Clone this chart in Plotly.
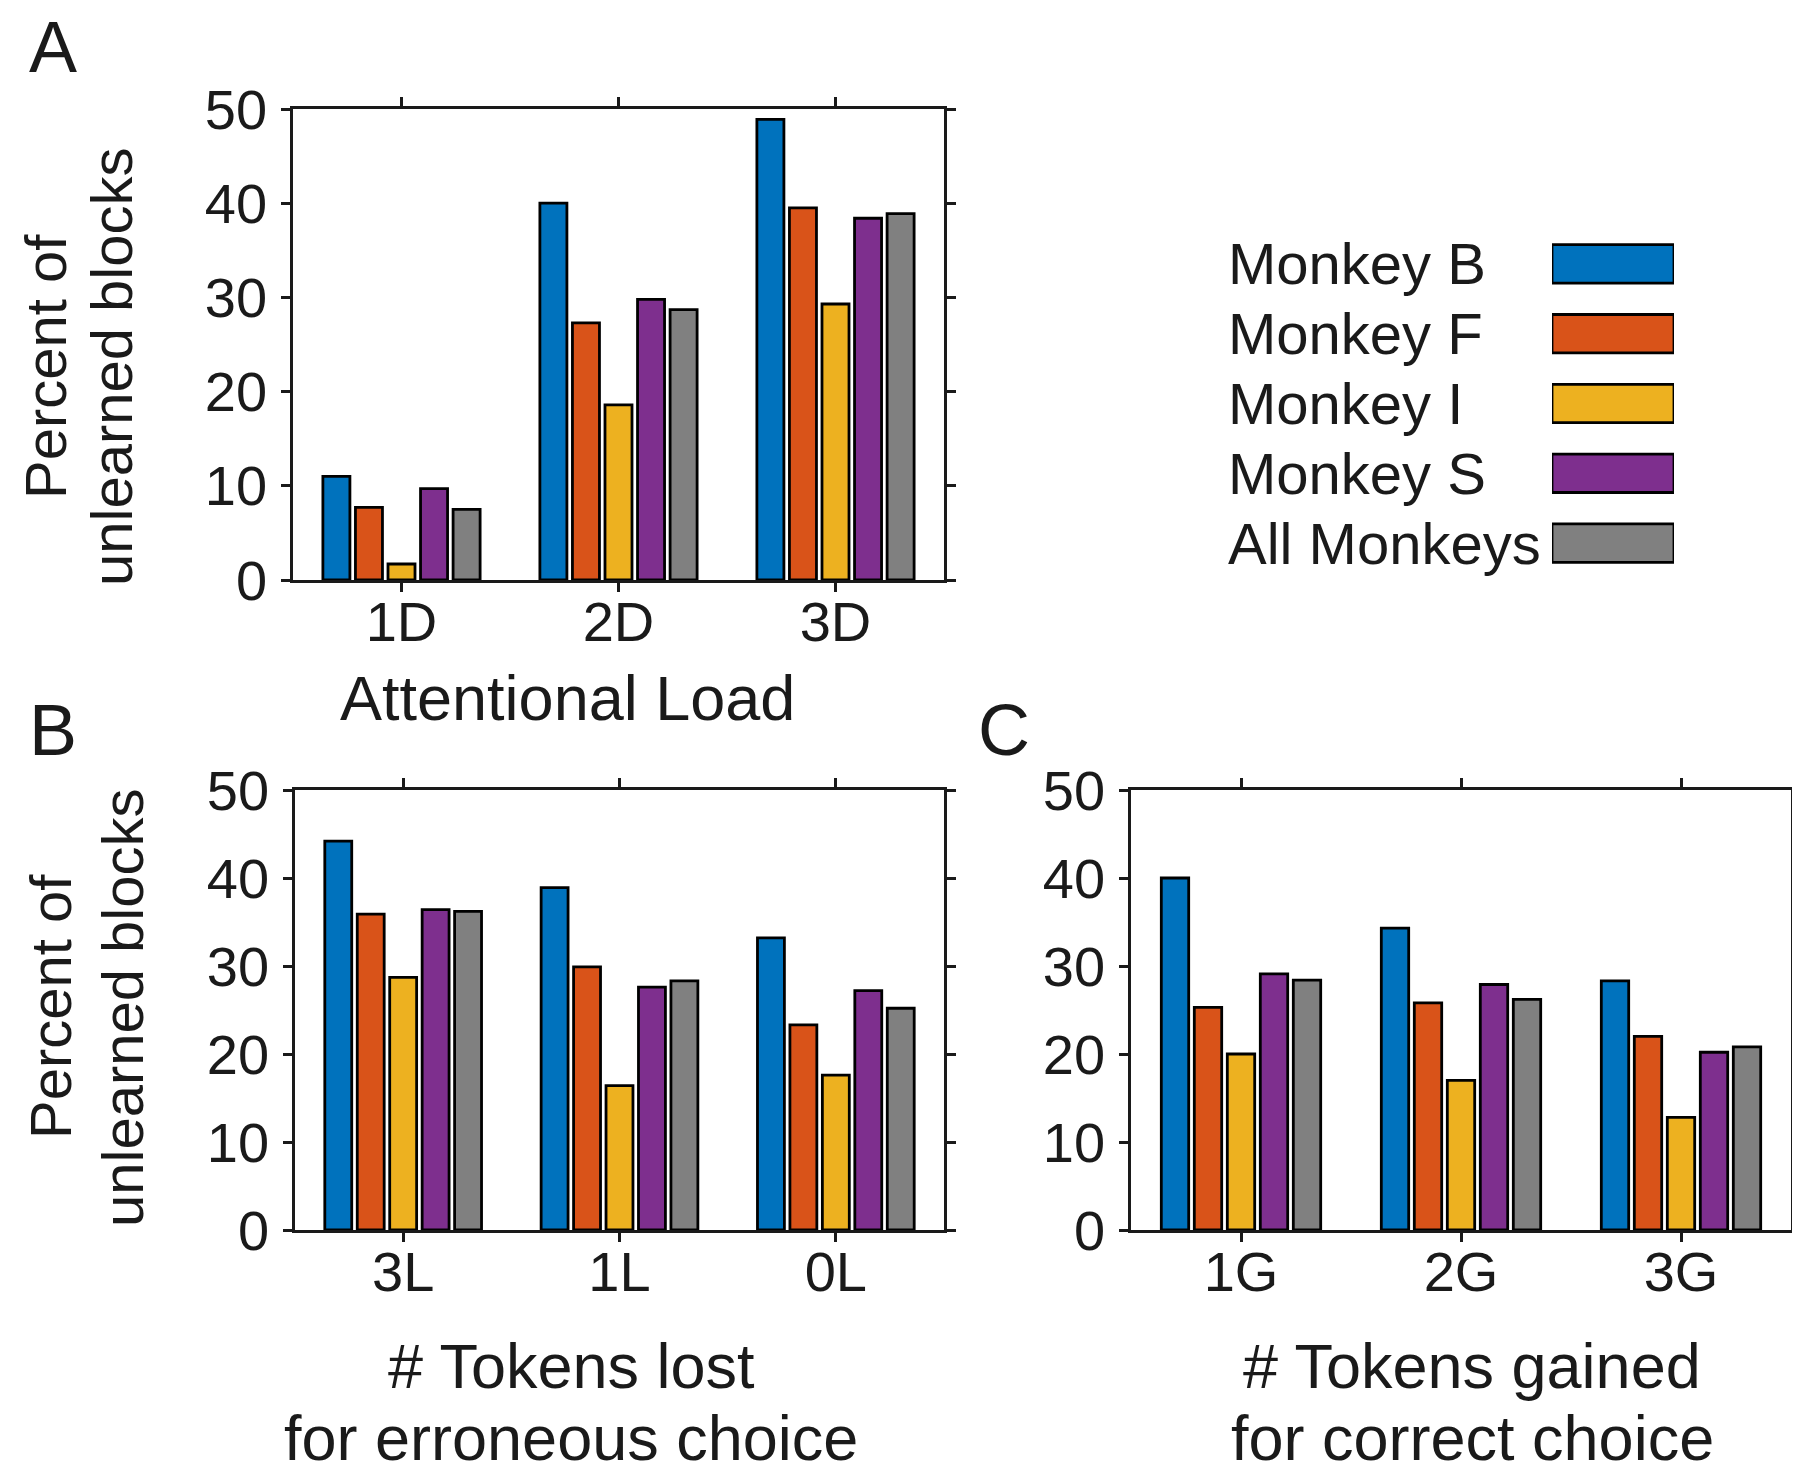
import plotly.graph_objects as go

# ---------------- data ----------------
series_names = ["Monkey B", "Monkey F", "Monkey I", "Monkey S", "All Monkeys"]
series_colors = ["#0072BD", "#D95319", "#EDB120", "#7E2F8E", "#808080"]

cats_A = ["1D", "2D", "3D"]
cats_B = ["3L", "1L", "0L"]
cats_C = ["1G", "2G", "3G"]

# Panel A: Attentional load
A_monkey_B = [11.0, 40.0, 48.9]
A_monkey_F = [7.7, 27.3, 39.5]
A_monkey_I = [1.7, 18.6, 29.3]
A_monkey_S = [9.7, 29.8, 38.4]
A_all = [7.5, 28.7, 38.9]

# Panel B: tokens lost
B_monkey_B = [44.2, 38.9, 33.2]
B_monkey_F = [35.9, 29.9, 23.3]
B_monkey_I = [28.7, 16.4, 17.6]
B_monkey_S = [36.4, 27.6, 27.2]
B_all = [36.2, 28.3, 25.2]

# Panel C: tokens gained
C_monkey_B = [40.0, 34.3, 28.3]
C_monkey_F = [25.3, 25.8, 22.0]
C_monkey_I = [20.0, 17.0, 12.8]
C_monkey_S = [29.1, 27.9, 20.2]
C_all = [28.4, 26.2, 20.8]

y_ticks = [0, 10, 20, 30, 40, 50]

panels = [
    ("x", "y", cats_A, [A_monkey_B, A_monkey_F, A_monkey_I, A_monkey_S, A_all]),
    ("x2", "y2", cats_B, [B_monkey_B, B_monkey_F, B_monkey_I, B_monkey_S, B_all]),
    ("x3", "y3", cats_C, [C_monkey_B, C_monkey_F, C_monkey_I, C_monkey_S, C_all]),
]

OFF = 8  # default page margin around the plot div
W, H = 1800 - OFF, 1475 - OFF
FONT = "Liberation Sans, Arial, Helvetica, sans-serif"
INK = "#1a1a1a"


def px(x):
    return (x - OFF) / W


def py(y):
    return 1 - (y - OFF) / H


fig = go.Figure()
for xa, ya, cats, vals in panels:
    for name, color, v in zip(series_names, series_colors, vals):
        fig.add_trace(go.Bar(
            x=cats, y=v, name=name, xaxis=xa, yaxis=ya,
            marker=dict(color=color, line=dict(color="black", width=2.8)),
            showlegend=False,
        ))

# custom legend: swatches drawn as a horizontal bar trace on its own axes
fig.add_trace(go.Bar(
    y=series_names, x=[1] * len(series_names), orientation="h",
    xaxis="x4", yaxis="y4", width=0.55,
    marker=dict(color=series_colors, line=dict(color="black", width=2.8)),
    showlegend=False,
))

axis_common = dict(
    showline=True, linecolor=INK, linewidth=2.5, mirror="ticks",
    ticks="outside", ticklen=9, tickwidth=2.5, tickcolor=INK,
    showgrid=False, zeroline=False, automargin=False,
    tickfont=dict(family=FONT, size=56, color=INK),
)

dom_A_x = [px(293), px(944)]
dom_A_y = [py(580), py(109)]
dom_B_x = [px(295), px(944)]
dom_BC_y = [py(1230), py(790)]
dom_C_x = [px(1131), px(1791)]

layout = dict(
    width=W, height=H,
    margin=dict(l=0, r=0, t=0, b=0, autoexpand=False),
    paper_bgcolor="white", plot_bgcolor="white",
    barmode="group", bargap=0.25, bargroupgap=0.17,
    font=dict(family=FONT, color=INK),
    showlegend=False,
)

for i, (xd, yd, anchor_y) in enumerate(
    [(dom_A_x, dom_A_y, "y"), (dom_B_x, dom_BC_y, "y2"), (dom_C_x, dom_BC_y, "y3")], start=1
):
    xk = "xaxis" if i == 1 else f"xaxis{i}"
    yk = "yaxis" if i == 1 else f"yaxis{i}"
    anchor_x = "x" if i == 1 else f"x{i}"
    layout[xk] = dict(axis_common, domain=xd, anchor=anchor_y, range=[-0.5, 2.5],
                      ticklabelstandoff=-18)
    layout[yk] = dict(axis_common, domain=yd, anchor=anchor_x, range=[0, 50],
                      tickvals=y_ticks, ticklabelstandoff=3)

layout["xaxis4"] = dict(domain=[px(1552), px(1674)], anchor="y4", range=[0, 1],
                        visible=False, fixedrange=True, automargin=False)
layout["yaxis4"] = dict(domain=[py(578), py(229)], anchor="x4",
                        range=[len(series_names) - 0.5, -0.5],
                        categoryorder="array", categoryarray=series_names,
                        visible=False, fixedrange=True, automargin=False)

fig.update_layout(**layout)

TF = dict(family=FONT, size=58, color=INK)
AF = dict(family=FONT, size=63, color=INK)
ann = []
# legend text
for name in series_names:
    ann.append(dict(x=px(1226), y=name, xref="paper", yref="y4", text=name,
                    showarrow=False, xanchor="left", yanchor="middle", font=TF))
# panel letters
for letter, x, y in [("A", 27, 47), ("B", 27, 730), ("C", 976, 730)]:
    ann.append(dict(x=px(x), y=py(y), xref="paper", yref="paper", text=letter,
                    showarrow=False, xanchor="left", yanchor="middle",
                    font=dict(family=FONT, size=72, color=INK)))


def text_line(x, y, s):
    return dict(x=px(x), y=py(y), xref="paper", yref="paper", text=s,
                showarrow=False, xanchor="center", yanchor="middle", font=AF)


def vtext_line(x, y, s):
    return dict(x=px(x), y=py(y), xref="paper", yref="paper", text=s,
                textangle=-90, showarrow=False, xanchor="center",
                yanchor="middle", font=TF)


# axis titles
ann.append(text_line(567, 698, "Attentional Load"))
ann.append(text_line(571, 1366, "# Tokens lost"))
ann.append(text_line(571, 1438, "for erroneous choice"))
ann.append(text_line(1472, 1366, "# Tokens gained"))
ann.append(text_line(1472, 1438, "for correct choice"))
ann.append(vtext_line(45, 367, "Percent of"))
ann.append(vtext_line(111, 367, "unlearned blocks"))
ann.append(vtext_line(51, 1007, "Percent of"))
ann.append(vtext_line(123, 1007, "unlearned blocks"))

fig.update_layout(annotations=ann)

fig.write_html("out.html")
